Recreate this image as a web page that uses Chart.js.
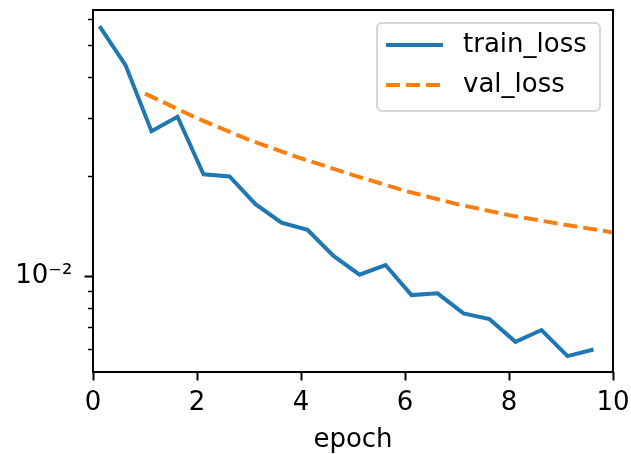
<!DOCTYPE html>
<html>
<head>
<meta charset="utf-8">
<script src="https://cdn.jsdelivr.net/npm/chart.js@4/dist/chart.umd.min.js"></script>
<style>
html,body{margin:0;padding:0;background:#fff;}
canvas{display:block;}
</style>
</head>
<body>
<canvas id="c" width="631" height="454"></canvas>
<script>
// ---- data ----
const trainEpochs = [0.125,0.625,1.125,1.625,2.125,2.625,3.125,3.625,4.125,4.625,5.125,5.625,6.125,6.625,7.125,7.625,8.125,8.625,9.125,9.625];
const trainLoss   = [0.0569,0.0434,0.0274,0.0303,0.0203,0.0200,0.0165,0.0145,0.0138,0.0115,0.0101,0.0108,0.00876,0.00887,0.00771,0.00741,0.00633,0.00687,0.00573,0.00600];
const valEpochs   = [1,2,3,4,5,6,7,8,9,10];
const valLoss     = [0.0356,0.0300,0.0258,0.0227,0.0202,0.0181,0.0165,0.01528,0.01436,0.01355];
const xTicks      = [0,2,4,6,8,10];
const yTickValues = [0.006,0.007,0.008,0.009,0.01,0.02,0.03,0.04,0.05,0.06];
const yMajor      = [0.01];
const yMajorLabel = ['10\u207B\u00B2'];
const seriesNames = ['train_loss','val_loss'];

const FONT = 'DejaVu Sans';
const FS = 26;

const framePlugin = {
  id: 'frame',
  afterDraw(chart) {
    const {ctx, chartArea: a, scales: {y}} = chart;
    ctx.save();
    ctx.strokeStyle = '#000';
    // y ticks (major longer than minor)
    y.ticks.forEach(t => {
      const py = Math.round(y.getPixelForValue(t.value)) + 0.5;
      const major = yMajor.includes(t.value);
      ctx.lineWidth = major ? 2 : 1.5;
      ctx.beginPath();
      ctx.moveTo(a.left - (major ? 8.5 : 5), py);
      ctx.lineTo(a.left, py);
      ctx.stroke();
    });
    // spines
    ctx.lineWidth = 2;
    ctx.strokeRect(a.left, a.top, a.right - a.left, a.bottom - a.top);

    // legend
    const bx = a.right - 236, by = a.top + 13, bw = 223, bh = 88, r = 5;
    ctx.beginPath();
    ctx.moveTo(bx + r, by);
    ctx.arcTo(bx + bw, by, bx + bw, by + bh, r);
    ctx.arcTo(bx + bw, by + bh, bx, by + bh, r);
    ctx.arcTo(bx, by + bh, bx, by, r);
    ctx.arcTo(bx, by, bx + bw, by, r);
    ctx.closePath();
    ctx.fillStyle = 'rgba(255,255,255,0.8)';
    ctx.fill();
    ctx.strokeStyle = 'rgba(204,204,204,0.8)';
    ctx.lineWidth = 2;
    ctx.stroke();

    chart.data.datasets.forEach((ds, i) => {
      const ry = by + 22 + i * 40;
      ctx.strokeStyle = ds.borderColor;
      ctx.lineWidth = ds.borderWidth;
      ctx.setLineDash(ds.borderDash || []);
      ctx.beginPath();
      ctx.moveTo(bx + 9, ry);
      ctx.lineTo(bx + 66, ry);
      ctx.stroke();
      ctx.setLineDash([]);
      ctx.fillStyle = '#000';
      ctx.font = FS + 'px "' + FONT + '"';
      ctx.textBaseline = 'middle';
      ctx.textAlign = 'left';
      ctx.fillText(ds.label, bx + 86, ry);
    });
    ctx.restore();
  }
};

new Chart(document.getElementById('c'), {
  type: 'line',
  data: {
    datasets: [
      {
        label: seriesNames[0],
        data: trainEpochs.map((x, i) => ({x, y: trainLoss[i]})),
        borderColor: '#1f77b4',
        borderWidth: 4,
        pointRadius: 0,
        tension: 0,
        fill: false
      },
      {
        label: seriesNames[1],
        data: valEpochs.map((x, i) => ({x, y: valLoss[i]})),
        borderColor: '#ff7f0e',
        borderWidth: 4,
        borderDash: [14, 6],
        pointRadius: 0,
        tension: 0,
        fill: false
      }
    ]
  },
  options: {
    responsive: false,
    animation: false,
    devicePixelRatio: 1,
    layout: { padding: { left: 0, right: 18, top: 10, bottom: 0 } },
    plugins: { legend: { display: false }, tooltip: { enabled: false } },
    scales: {
      x: {
        type: 'linear',
        min: 0, max: 10,
        afterBuildTicks: s => { s.ticks = xTicks.map(v => ({value: v})); },
        afterFit: s => { s.height = 82; s.paddingLeft = 0; s.paddingRight = 0; },
        border: { display: false },
        grid: { drawOnChartArea: false, drawTicks: true, tickLength: 8.5, tickWidth: 2, tickColor: '#000', color: '#000' },
        ticks: { color: '#000', font: { family: FONT, size: FS }, padding: 7, maxRotation: 0, autoSkip: false },
        title: { display: true, text: 'epoch', color: '#000', font: { family: FONT, size: FS }, padding: { top: 0, bottom: -2 } }
      },
      y: {
        type: 'logarithmic',
        min: 0.00513, max: 0.0637,
        afterBuildTicks: s => { s.ticks = yTickValues.map(v => ({value: v, major: yMajor.includes(v)})); },
        afterFit: s => { s.width = 93; s.paddingTop = 0; s.paddingBottom = 0; },
        border: { display: false },
        grid: { drawOnChartArea: false, drawTicks: true, tickLength: 8.5, tickColor: 'rgba(0,0,0,0)', color: 'rgba(0,0,0,0)' },
        ticks: {
          color: '#000', font: { family: FONT, size: FS }, padding: 12, autoSkip: false,
          callback: v => { const k = yMajor.indexOf(v); return k >= 0 ? yMajorLabel[k] : ''; }
        }
      }
    }
  },
  plugins: [framePlugin]
});
</script>
</body>
</html>
